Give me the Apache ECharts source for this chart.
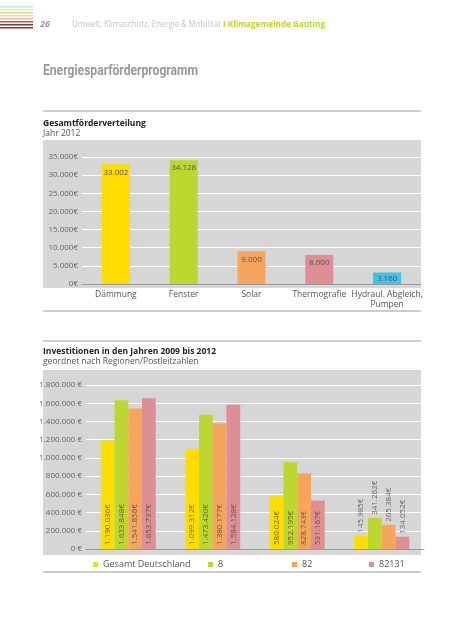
<!DOCTYPE html>
<html><head><meta charset="utf-8">
<script src="https://cdn.jsdelivr.net/npm/echarts@6/dist/echarts.min.js"></script>
<style>html,body{margin:0;padding:0;background:#fff}#c{width:453px;height:640px}</style>
</head><body><div id="c"></div>
<script>
// Chart 1 data
const cat1 = ['Dämmung', 'Fenster', 'Solar', 'Thermografie', 'Hydraul. Abgleich,\nPumpen'];
const val1 = [33002, 34128, 9000, 8000, 3160];
const col1 = ['#ffdd00', '#bed630', '#f6a65c', '#de8f94', '#3fc3ea'];

// Chart 2 data
const cat2 = ['G1', 'G2', 'G3', 'G4'];
const seriesNames2 = ['Gesamt Deutschland', '8', '82', '82131'];
const sGesamt = [1190036, 1099312, 580024, 145985];
const s8 = [1633848, 1473420, 952195, 341262];
const s82 = [1541856, 1380177, 828743, 265384];
const s82131 = [1653737, 1584128, 531167, 134052];
const col2 = ['#ffdd00', '#bed630', '#f6a65c', '#de8f94'];

const FONT = "'Open Sans', sans-serif";
function deNum(v){ return String(v).replace(/\B(?=(\d{3})+(?!\d))/g, '.'); }

const mctx = document.createElement('canvas').getContext('2d');
function fitScale(text, font, target){ mctx.font = font; return target / mctx.measureText(text).width; }

const chart = echarts.init(document.getElementById('c'), null, {renderer:'canvas'});

const TITLE = 'Energiesparförderprogramm';
const titleFont = "bold 14px Roboto, sans-serif";
const H1 = 'Umwelt, Klimaschutz, Energie & Mobilität';
const H2 = 'I Klimagemeinde Gauting';
const h1Font = "9px " + FONT, h2Font = "bold 9px " + FONT;

const stripeCols = ['#c9e7f6','#f3eb95','#cfe08e','#f0d6b6','#e9bba8','#b4574c','#7d3b2b','#9a2f2f'];
const graphics = [];
stripeCols.forEach((c,i)=>graphics.push({type:'rect', shape:{x:0,y:6+i*3,width:33,height:1.6}, style:{fill:c}, z:-5}));
graphics.push(
  {type:'text', x:40, y:20, style:{text:'26', font:"italic bold 9px "+FONT, fill:'#9a9a9a'}},
  {type:'text', x:72, y:20, scaleX:fitScale(H1,h1Font,149), style:{text:H1, font:h1Font, fill:'#c4c4c4'}},
  {type:'text', x:223, y:20, scaleX:fitScale(H2,h2Font,102), style:{text:H2, font:h2Font, fill:'#c3d42a'}},
  {type:'text', x:43, y:64, scaleX:fitScale(TITLE,titleFont,155), style:{text:TITLE, font:titleFont, fill:'#999999'}},
  // chart 1 frame
  {type:'line', shape:{x1:43,y1:111,x2:421,y2:111}, style:{stroke:'#9a9a9a', lineWidth:1}},
  {type:'text', x:43, y:119, style:{text:'Gesamtförderverteilung', font:"bold 8.5px "+FONT, fill:'#222'}},
  {type:'text', x:43, y:129, style:{text:'Jahr 2012', font:"8.5px "+FONT, fill:'#555'}},
  {type:'rect', shape:{x:43,y:140,width:378,height:148}, style:{fill:'#d6d6d6'}, z:-10},
  {type:'line', shape:{x1:43,y1:311,x2:421,y2:311}, style:{stroke:'#9a9a9a', lineWidth:1}},
  // chart 2 frame
  {type:'line', shape:{x1:43,y1:341,x2:421,y2:341}, style:{stroke:'#9a9a9a', lineWidth:1}},
  {type:'text', x:43, y:347, style:{text:'Investitionen in den Jahren 2009 bis 2012', font:"bold 8.5px "+FONT, fill:'#222'}},
  {type:'text', x:43, y:357, style:{text:'geordnet nach Regionen/Postleitzahlen', font:"8.5px "+FONT, fill:'#555'}},
  {type:'rect', shape:{x:43,y:370,width:378,height:185}, style:{fill:'#d6d6d6'}, z:-10},
  {type:'line', shape:{x1:43,y1:572,x2:421,y2:572}, style:{stroke:'#9a9a9a', lineWidth:1}}
);

const legendX = [88, 203, 287, 364];
const legends = seriesNames2.map((n,i)=>({
  data:[n], left:legendX[i], top:555, icon:'rect', itemWidth:5, itemHeight:5, itemGap:4,
  textStyle:{fontFamily:FONT, fontSize:9, color:'#555'}, selectedMode:false
}));

function bar2(name, data, color){
  return {
    name, type:'bar', xAxisIndex:1, yAxisIndex:1, barGap:'0%', barCategoryGap:'35%',
    itemStyle:{color},
    data: data.map((v,j)=>({
      value:v,
      label: j===3 ? {position:'top', distance:3, rotate:90, align:'left', verticalAlign:'middle', color:'#666'} : undefined
    })),
    label:{show:true, position:'insideBottom', distance:4, rotate:90, align:'left', verticalAlign:'middle',
      fontFamily:FONT, fontSize:8, color:'rgba(70,70,60,0.8)',
      formatter:p=>deNum(p.value)+'€'}
  };
}

chart.setOption({
  animation:false,
  textStyle:{fontFamily:FONT},
  graphic: graphics,
  legend: legends,
  grid:[
    {left:82, right:32, top:157, height:127},
    {left:86, right:29, top:385, height:164}
  ],
  xAxis:[
    {type:'category', gridIndex:0, data:cat1, axisTick:{show:false},
     axisLine:{lineStyle:{color:'#9a9a9a'}},
     axisLabel:{fontFamily:FONT, fontSize:8.5, color:'#555', margin:6, interval:0, lineHeight:10}},
    {type:'category', gridIndex:1, data:cat2, axisTick:{show:false},
     axisLine:{lineStyle:{color:'#9a9a9a'}}, axisLabel:{show:false}}
  ],
  yAxis:[
    {type:'value', gridIndex:0, min:0, max:35000, interval:5000,
     axisLabel:{fontFamily:FONT, fontSize:8, color:'#666', margin:4, formatter:v=>deNum(v)+'€'},
     splitLine:{lineStyle:{color:'#ffffff', width:1}}, axisLine:{show:false}, axisTick:{show:false}},
    {type:'value', gridIndex:1, min:0, max:1800000, interval:200000,
     axisLabel:{fontFamily:FONT, fontSize:8, color:'#666', margin:4, formatter:v=>deNum(v)+' €'},
     splitLine:{lineStyle:{color:'#ffffff', width:1}}, axisLine:{show:false}, axisTick:{show:false}}
  ],
  series:[
    {type:'bar', xAxisIndex:0, yAxisIndex:0, barWidth:28,
     data: val1.map((v,i)=>({value:v, itemStyle:{color:col1[i]},
       label: i===4 ? {position:'inside'} : undefined})),
     label:{show:true, position:'insideTop', distance:4, fontFamily:FONT, fontSize:8, color:'#555',
       formatter:p=>deNum(p.value)}},
    bar2(seriesNames2[0], sGesamt, col2[0]),
    bar2(seriesNames2[1], s8, col2[1]),
    bar2(seriesNames2[2], s82, col2[2]),
    bar2(seriesNames2[3], s82131, col2[3])
  ]
});
</script></body></html>
